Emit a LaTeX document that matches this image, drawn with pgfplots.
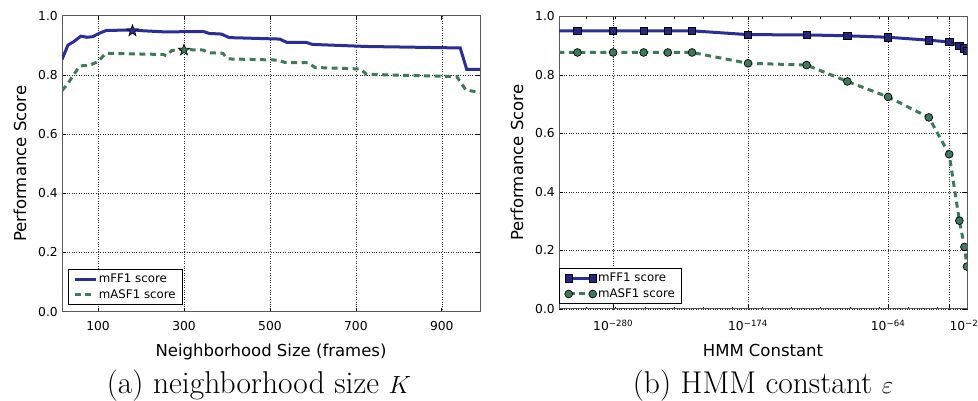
\documentclass[border=0pt]{standalone}
\usepackage{pgfplots}
\pgfplotsset{compat=1.18}
\usepackage{fontspec}
\newfontfamily\dejavu{DejaVu Sans}
\definecolor{cblue}{RGB}{42,46,150}
\definecolor{cgreen}{RGB}{62,122,90}
\pgfdeclareplotmark{fivestar}{%
  \pgfpathmoveto{\pgfpointpolar{90}{\pgfplotmarksize}}%
  \pgfpathlineto{\pgfpointpolar{126}{0.4\pgfplotmarksize}}%
  \pgfpathlineto{\pgfpointpolar{162}{\pgfplotmarksize}}%
  \pgfpathlineto{\pgfpointpolar{198}{0.4\pgfplotmarksize}}%
  \pgfpathlineto{\pgfpointpolar{234}{\pgfplotmarksize}}%
  \pgfpathlineto{\pgfpointpolar{270}{0.4\pgfplotmarksize}}%
  \pgfpathlineto{\pgfpointpolar{306}{\pgfplotmarksize}}%
  \pgfpathlineto{\pgfpointpolar{342}{0.4\pgfplotmarksize}}%
  \pgfpathlineto{\pgfpointpolar{18}{\pgfplotmarksize}}%
  \pgfpathlineto{\pgfpointpolar{54}{0.4\pgfplotmarksize}}%
  \pgfpathclose
  \pgfusepathqfillstroke
}
\pgfplotsset{
  common/.style={
    scale only axis, anchor=south west,
    ymin=0, ymax=1, ytick={0,0.2,0.4,0.6,0.8,1},
    grid=major,
    major grid style={dotted, black!85, line width=0.5pt},
    axis line style={black!65, line width=1pt},
    tick align=inside, major tick length=4pt, minor tick length=2.2pt,
    tick style={black, line width=0.6pt},
    xtick pos=both, ytick pos=both,
    ticklabel style={font=\dejavu\fontsize{12.3}{14}\selectfont},
    /pgf/number format/assume math mode=true,
    yticklabel style={/pgf/number format/fixed, /pgf/number format/fixed zerofill, /pgf/number format/precision=1, anchor=east, inner sep=0pt, xshift=-4pt},
    label style={font=\dejavu\fontsize{16.5}{19}\selectfont},
    legend cell align=left,
    legend style={font=\dejavu\fontsize{11.8}{13}\selectfont, draw=black, line width=0.8pt, fill=white, inner xsep=5pt, inner ysep=3pt, row sep=2.5pt, nodes={inner sep=1.5pt}},
    clip marker paths=true,
  }
}
\begin{document}
\begin{tikzpicture}
\useasboundingbox (0,0) rectangle (978pt,401pt);
% (a)
\begin{axis}[common,
  at={(62pt,89.3pt)}, width=418pt, height=296pt,
  xmin=16, xmax=989, xtick={100,300,500,700,900},
  xticklabel style={anchor=base, yshift=-19pt},
  xlabel={Neighborhood Size (frames)}, ylabel={Performance Score},
  xlabel style={at={(axis description cs:0.5,0)}, anchor=base, yshift=-45.3pt},
  ylabel style={at={(axis description cs:-0.1005,0.5)}, anchor=center},
  legend style={at={(0.0144,0.0226)}, anchor=south west},
  legend image code/.code={\draw[#1] (0pt,0pt) -- (21pt,0pt);},
]
\addplot[cblue, line width=3pt] coordinates {
(16,0.852) (30,0.901) (43,0.912) (60,0.931) (74,0.927) (87,0.929) (102,0.940) (119,0.950)
(182,0.952) (205,0.949) (259,0.945) (298,0.946) (346,0.946) (359,0.940) (387,0.938) (405,0.926)
(523,0.921) (539,0.910) (584,0.910) (599,0.903) (725,0.896) (943,0.891) (958,0.819) (989,0.819)};
\addlegendentry{mFF1 score\hspace{6pt}}
\addplot[cgreen, line width=3pt, dash pattern=on 6pt off 4.5pt] coordinates {
(16,0.747) (30,0.771) (43,0.800) (57,0.830) (81,0.833) (100,0.845) (118,0.873) (251,0.869)
(259,0.865) (271,0.882) (290,0.886) (345,0.884) (356,0.875) (390,0.873) (403,0.854) (519,0.850)
(535,0.842) (589,0.841) (605,0.825) (710,0.820) (725,0.802) (935,0.794) (956,0.749) (989,0.741)};
\addlegendentry{mASF1 score\hspace{6pt}}
\addplot[only marks, mark=fivestar, mark size=6pt, mark options={fill=cblue, draw=black, line width=0.6pt}, forget plot]
  coordinates {(180,0.949)};
\addplot[only marks, mark=fivestar, mark size=6pt, mark options={fill=cgreen, draw=black, line width=0.6pt}, forget plot]
  coordinates {(300,0.884)};
\end{axis}
% (b)
\begin{axis}[common,
  at={(559pt,92pt)}, width=408pt, height=292.5pt,
  xmin=-322.5, xmax=-2,
  xtick={-280,-174,-64,-16,-2},
  xticklabels={10\textsuperscript{−280},10\textsuperscript{−174},10\textsuperscript{−64},{},\hspace{-6pt}10\textsuperscript{−2}},
  minor xtick={-301,-278,-255,-232,-209,-186,-163,-140,-117,-94,-71,-48,-25},
  xticklabel style={anchor=base, yshift=-21.7pt},
  xlabel={HMM Constant}, ylabel={Performance Score},
  xlabel style={at={(axis description cs:0.5,0)}, anchor=base, yshift=-47.7pt},
  ylabel style={at={(axis description cs:-0.103,0.5)}, anchor=center},
  legend style={at={(0.001,0.017)}, anchor=south west},
  legend image code/.code={\draw[#1] plot coordinates {(0pt,0pt) (24pt,0pt)};},
]
\addplot[cblue, line width=3pt, mark=square*, mark size=3.7pt, mark options={solid, fill=cblue!85!black, draw=black, line width=0.7pt}] coordinates {
(-323,0.951) (-308,0.951) (-280,0.951) (-256,0.951) (-237,0.951) (-218,0.951) (-174,0.938)
(-128,0.937) (-96,0.934) (-64,0.929) (-32,0.919) (-16,0.913) (-8,0.900) (-4,0.891) (-2,0.883)};
\addlegendentry{mFF1 score}
\addplot[cgreen, line width=3pt, dash pattern=on 6pt off 4.5pt, mark=*, mark size=3.9pt, mark options={solid, fill=cgreen, draw=black, line width=0.7pt}] coordinates {
(-323,0.877) (-308,0.877) (-280,0.877) (-256,0.877) (-237,0.877) (-218,0.877) (-174,0.840)
(-128,0.834) (-96,0.778) (-64,0.725) (-32,0.655) (-16,0.529) (-8,0.302) (-4,0.212) (-2,0.145)};
\addlegendentry{mASF1 score}
\end{axis}
\node[anchor=base, inner sep=0pt, font=\fontsize{31.5}{36}\selectfont] at (259pt,7pt) {(a) neighborhood size $K$};
\node[anchor=base, inner sep=0pt, font=\fontsize{31.5}{36}\selectfont] at (763pt,7pt) {(b) HMM constant $\varepsilon$};
\end{tikzpicture}
\end{document}
